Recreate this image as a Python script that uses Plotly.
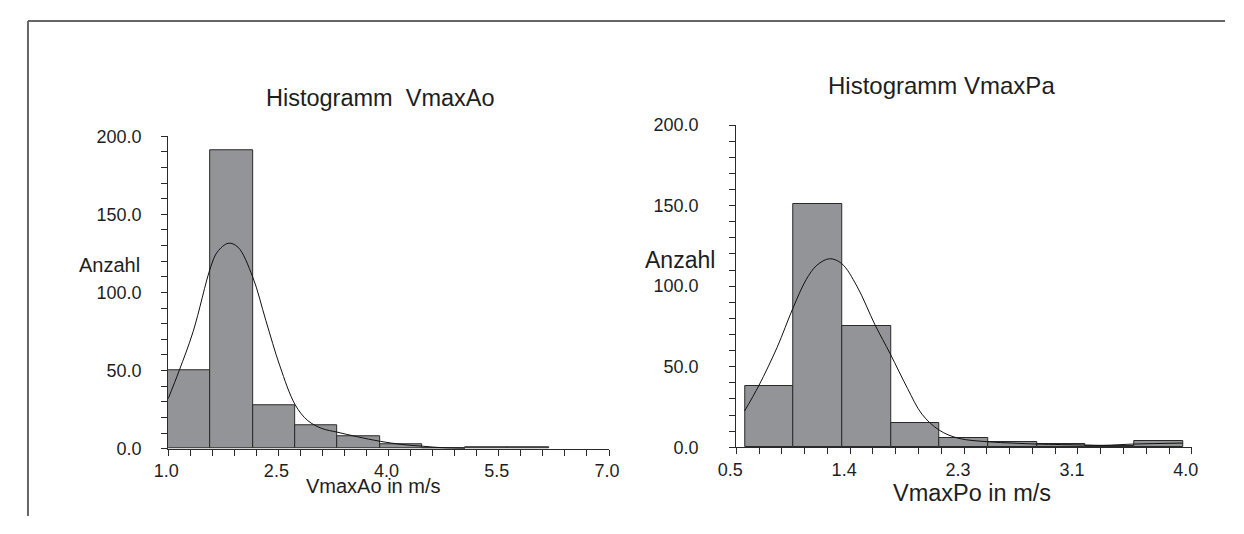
import plotly.graph_objects as go

# ---------------- data ----------------
# Left histogram (VmaxAo)
ao_bin_start = 1.0
ao_bin_width = 0.5765
ao_counts = [50, 191, 28, 15, 8, 3, 0, 1, 1]
ao_curve_x = [1.0, 1.15, 1.34, 1.58, 1.67, 1.82, 1.95, 2.15, 2.33, 2.52, 2.73, 2.9,
              3.09, 3.31, 3.56, 3.89, 4.18, 4.46, 4.74, 5.04]
ao_curve_y = [32, 50, 75, 116.5, 126, 131.5, 129, 110, 82, 53, 28, 18,
              13, 10.5, 7.8, 4.7, 2.7, 1.6, 0.6, 0.2]
ao_xticks = [1.0, 2.5, 4.0, 5.5, 7.0]
ao_xticktext = ["1.0", "2.5", "4.0", "5.5", "7.0"]

# Right histogram (VmaxPa)
pa_bin_start = 0.567
pa_bin_width = 0.3737
pa_counts = [38, 151, 75, 15, 6, 3, 2, 1, 4]
pa_curve_x = [0.564, 0.675, 0.814, 0.934, 1.037, 1.12, 1.218, 1.31, 1.427, 1.566,
              1.683, 1.816, 1.927, 2.06, 2.206, 2.437, 2.62, 2.81, 3.18, 3.32, 3.56, 3.93]
pa_curve_y = [22.5, 38.5, 62, 86, 104, 113, 117, 114, 100, 76,
              58, 36.5, 20.5, 10.6, 5.6, 3.4, 2.6, 2.0, 1.4, 1.2, 2.0, 2.6]
pa_xticks = [0.5, 1.375, 2.25, 3.125, 4.0]
pa_xticktext = ["0.5", "1.4", "2.3", "3.1", "4.0"]

y_ticks = [0, 50, 100, 150, 200]
y_ticktext = ["0.0", "50.0", "100.0", "150.0", "200.0"]

# ---------------- layout helpers ----------------
# The page body has an 8px margin, so the figure is made 16px smaller than the
# window and every position below is given in window pixels.
OFF = 8
W, H = 1244 - 2 * OFF, 534 - 2 * OFF
def px(x):
    return (x - OFF) / W
def py(y):
    return 1 - (y - OFF) / H

FONT = "Liberation Sans, Arial, sans-serif"
TXT = "#1e1e1e"
BAR_FILL = "#939497"
EDGE = "#2a2a2a"

def centers(start, width, n):
    return [start + width * (i + 0.5) for i in range(n)]

fig = go.Figure()

fig.add_trace(go.Bar(
    x=centers(ao_bin_start, ao_bin_width, len(ao_counts)), y=ao_counts,
    width=ao_bin_width, marker=dict(color=BAR_FILL, line=dict(color=EDGE, width=1)),
    xaxis="x", yaxis="y", showlegend=False, hoverinfo="skip"))
fig.add_trace(go.Scatter(
    x=ao_curve_x, y=ao_curve_y, mode="lines",
    line=dict(color="#111111", width=1, shape="spline", smoothing=1.0),
    xaxis="x", yaxis="y", showlegend=False, hoverinfo="skip"))

fig.add_trace(go.Bar(
    x=centers(pa_bin_start, pa_bin_width, len(pa_counts)), y=pa_counts,
    width=pa_bin_width, marker=dict(color=BAR_FILL, line=dict(color=EDGE, width=1)),
    xaxis="x2", yaxis="y2", showlegend=False, hoverinfo="skip"))
fig.add_trace(go.Scatter(
    x=pa_curve_x, y=pa_curve_y, mode="lines",
    line=dict(color="#111111", width=1, shape="spline", smoothing=1.0),
    xaxis="x2", yaxis="y2", showlegend=False, hoverinfo="skip"))

axis_common = dict(showline=True, linecolor=EDGE, linewidth=1, ticks="outside",
                   ticklen=6, tickcolor=EDGE, tickwidth=1, showgrid=False,
                   zeroline=False, fixedrange=True)

fig.update_layout(
    width=W, height=H,
    margin=dict(l=0, r=0, t=0, b=0),
    paper_bgcolor="white", plot_bgcolor="white",
    bargap=0,
    font=dict(family=FONT, color=TXT),
    xaxis=dict(domain=[px(152.7), px(604.6)], range=[1.0, 7.0], anchor="y",
               tickmode="array", tickvals=ao_xticks, ticktext=ao_xticktext,
               tickfont=dict(size=18, color=TXT), ticklabelstandoff=0,
               ticklabelshift=-2,
               minor=dict(ticks="outside", ticklen=6, tickcolor=EDGE, dtick=0.3, tick0=1.0),
               **axis_common),
    yaxis=dict(domain=[py(456), py(131)], range=[0, 200], anchor="x",
               tickmode="array", tickvals=y_ticks, ticktext=y_ticktext,
               tickfont=dict(size=18, color=TXT), ticklabelstandoff=16,
               minor=dict(ticks="outside", ticklen=6, tickcolor=EDGE, dtick=10, tick0=0),
               **axis_common),
    xaxis2=dict(domain=[px(735), px(1202)], range=[0.5, 4.0], anchor="y2",
                tickmode="array", tickvals=pa_xticks, ticktext=pa_xticktext,
                tickfont=dict(size=18, color=TXT), ticklabelstandoff=0,
                ticklabelshift=-6,
                minor=dict(ticks="outside", ticklen=6, tickcolor=EDGE, dtick=0.175, tick0=0.5),
                **axis_common),
    yaxis2=dict(domain=[py(454.5), py(119.3)], range=[0, 200], anchor="x2",
                tickmode="array", tickvals=y_ticks, ticktext=y_ticktext,
                tickfont=dict(size=18, color=TXT), ticklabelstandoff=27,
                minor=dict(ticks="outside", ticklen=6, tickcolor=EDGE, dtick=10, tick0=0),
                **axis_common),
)

def label(text, x, y, size):
    fig.add_annotation(text=text, x=px(x), y=py(y), xref="paper", yref="paper",
                       xanchor="center", yanchor="middle", showarrow=False,
                       font=dict(family=FONT, size=size, color=TXT))

label("Histogramm\u00a0 VmaxAo", 370.6, 91.7, 23.5)
label("Histogramm VmaxPa", 945, 78.3, 24)
label("Anzahl", 93, 265.3, 20)
label("Anzahl", 677, 260, 23)
label("VmaxAo in m/s", 363, 495, 20)
label("VmaxPo in m/s", 977, 502, 23.5)

# outer frame: top and left edges (the rest lies outside the picture)
fig.add_shape(type="line", xref="paper", yref="paper",
              x0=px(9), x1=1.0, y0=py(11), y1=py(11),
              line=dict(color="#666666", width=2))
fig.add_shape(type="line", xref="paper", yref="paper",
              x0=px(9), x1=px(9), y0=py(11), y1=0.0,
              line=dict(color="#666666", width=2))

fig.write_html("out.html")
